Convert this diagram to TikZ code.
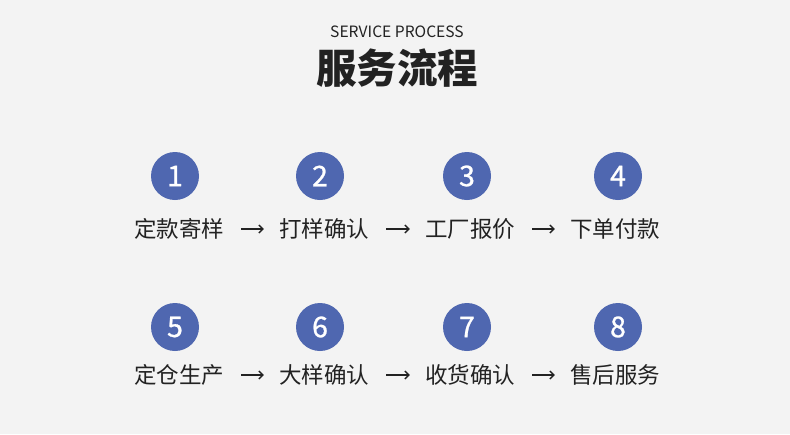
\documentclass[tikz,border=0pt]{standalone}
\usepackage{fontspec}
\setmainfont{Noto Sans CJK SC}
\newfontfamily\numfont[FakeBold=0.9]{Noto Sans CJK SC}
\usetikzlibrary{arrows.meta}
\definecolor{bgc}{HTML}{F3F3F3}
\definecolor{bluec}{HTML}{4F67B0}
\definecolor{txtc}{HTML}{222222}
\tikzset{
  x=1pt,y=1pt,
  numc/.style={circle,fill=bluec,minimum size=48pt,inner sep=0pt,text=white,font=\numfont\fontsize{28.5}{28}\selectfont},
  lbl/.style={text=txtc,inner sep=0pt,font=\fontsize{22.5}{24}\selectfont},
  arr/.style={draw=txtc,line width=1.3pt,-{Straight Barb[length=4pt,width=8pt]},shorten <=17pt,shorten >=15pt}
}
\begin{document}
\begin{tikzpicture}
\fill[bgc] (0,0) rectangle (790,-434);
\useasboundingbox (0,0) rectangle (790,-434);
\node[text=txtc,font=\fontsize{15.6}{16}\selectfont] (sub) at (397,-32) {SERVICE PROCESS};
\node[text=txtc,font=\fontsize{40.5}{41}\selectfont\bfseries] (title) at (397,-68) {服务流程};
% row 1
\node[numc] (c1) at (175,-176) {1};
\node[numc] (c2) at (320,-176) {2};
\node[numc] (c3) at (467,-176) {3};
\node[numc] (c4) at (618,-176) {4};
\node[lbl] (t1) at (179,-229) {定款寄样};
\node[lbl] (t2) at (324,-229) {打样确认};
\node[lbl] (t3) at (470,-229) {工厂报价};
\node[lbl] (t4) at (615,-229) {下单付款};
\draw[arr] (t1.east) -- (t2.west);
\draw[arr] (t2.east) -- (t3.west);
\draw[arr] (t3.east) -- (t4.west);
% row 2
\node[numc] (c5) at (175,-327) {5};
\node[numc] (c6) at (320,-327) {6};
\node[numc] (c7) at (467,-327) {7};
\node[numc] (c8) at (618,-327) {8};
\node[lbl] (t5) at (179,-375) {定仓生产};
\node[lbl] (t6) at (324,-375) {大样确认};
\node[lbl] (t7) at (470,-375) {收货确认};
\node[lbl] (t8) at (615,-375) {售后服务};
\draw[arr] (t5.east) -- (t6.west);
\draw[arr] (t6.east) -- (t7.west);
\draw[arr] (t7.east) -- (t8.west);
\end{tikzpicture}
\end{document}
